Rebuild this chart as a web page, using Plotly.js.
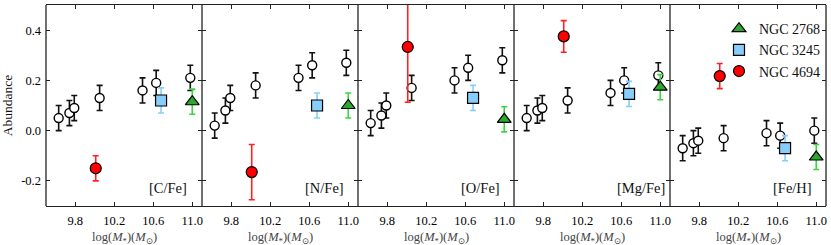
<!DOCTYPE html>
<html>
<head>
<meta charset="utf-8">
<script src="https://cdn.plot.ly/plotly-3.0.1.min.js"></script>
<style>
html,body{margin:0;padding:0;background:#fff;}
#chart{width:831px;height:245px;}
</style>
</head>
<body>
<div id="chart"></div>
<script>
// ---- data ----
const panelLabels = ['[C/Fe]', '[N/Fe]', '[O/Fe]', '[Mg/Fe]', '[Fe/H]'];
const xTitle = 'log(<i>M</i><sub>*</sub>)(<i>M</i><sub>⊙</sub>)';
const xTickVals = [9.8, 10.2, 10.6, 11.0];
const xTickText = ['9.8', '10.2', '10.6', '11.0'];
const yTickVals = [-0.2, 0.0, 0.2, 0.4];
const yTickText = ['-0.2', '0.0', '0.2', '0.4'];

// comparison sample (open circles): log stellar mass
const sampleMass = [9.63, 9.74, 9.79, 10.05, 10.49, 10.63, 10.98];
const sampleErr = [0.05, 0.05, 0.05, 0.05, 0.05, 0.05, 0.05];
const sampleCFe = [0.05, 0.07, 0.09, 0.13, 0.16, 0.19, 0.21];
const sampleNFe = [0.02, 0.08, 0.13, 0.18, 0.21, 0.26, 0.27];
const sampleOFe = [0.03, 0.06, 0.10, 0.17, 0.20, 0.25, 0.28];
const sampleMgFe = [0.05, 0.08, 0.09, 0.12, 0.15, 0.20, 0.22];
const sampleFeH = [-0.07, -0.05, -0.04, -0.03, -0.01, -0.02, 0.00];
const sampleSets = [sampleCFe, sampleNFe, sampleOFe, sampleMgFe, sampleFeH];

// named galaxies, one value per panel (C, N, O, Mg, Fe/H)
const massNGC2768 = 11.0;
const valNGC2768 = [0.115, 0.10, 0.045, 0.173, -0.105];
const errNGC2768 = [0.05, 0.05, 0.05, 0.05, 0.05];

const massNGC3245 = 10.68;
const valNGC3245 = [0.12, 0.10, 0.13, 0.146, -0.07];
const errNGC3245 = [0.05, 0.05, 0.05, 0.05, 0.05];

const massNGC4694 = 10.01;
const valNGC4694 = [-0.15, -0.165, 0.333, 0.375, 0.217];
const errNGC4694 = [0.05, 0.11, 0.22, 0.063, 0.05];

// ---- build ----
const serif = '"Liberation Serif", "DejaVu Serif", serif';
const axisColor = '#222';
const traces = [];
const layout = {
  width: 831, height: 245,
  margin: {l: 46, r: 5, t: 5, b: 39},
  paper_bgcolor: '#fff', plot_bgcolor: '#fff',
  showlegend: true,
  legend: {
    x: 1, xanchor: 'right', y: 0.96, yanchor: 'top',
    bgcolor: 'rgba(0,0,0,0)', borderwidth: 0,
    font: {family: serif, size: 14, color: '#111'},
    tracegroupgap: 0, itemwidth: 30
  },
  annotations: [],
  shapes: [],
  font: {family: serif, color: '#111'}
};

const n = panelLabels.length;
for (let i = 0; i < n; i++) {
  const xa = i === 0 ? 'x' : 'x' + (i + 1);
  const ya = i === 0 ? 'y' : 'y' + (i + 1);
  const xKey = i === 0 ? 'xaxis' : 'xaxis' + (i + 1);
  const yKey = i === 0 ? 'yaxis' : 'yaxis' + (i + 1);
  layout[xKey] = {
    domain: [i / n, (i + 1) / n], anchor: ya,
    range: [9.5, 11.1],
    tickvals: xTickVals, ticktext: xTickText,
    ticks: 'inside', ticklen: 4, tickwidth: 1, tickcolor: axisColor,
    showline: true, linecolor: axisColor, linewidth: 1.3, mirror: 'ticks',
    showgrid: false, zeroline: false,
    tickfont: {family: serif, size: 12.5, color: '#000'},
    ticklabelstandoff: 3
  };
  layout[yKey] = {
    domain: [0, 1], anchor: xa,
    range: [-0.3, 0.5],
    tickvals: yTickVals, ticktext: yTickText,
    ticks: 'inside', ticklen: 4, tickwidth: 1, tickcolor: axisColor,
    showline: false, mirror: 'ticks',
    showgrid: false, zeroline: false,
    showticklabels: i === 0,
    tickfont: {family: serif, size: 12.5, color: '#000'},
    ticklabelstandoff: 4
  };
  if (i > 0) layout[yKey].matches = 'y';
  if (i === 0) layout[yKey].title = {text: 'Abundance', font: {family: serif, size: 13.5, color: '#111'}, standoff: 6};

  // comparison sample
  traces.push({
    type: 'scatter', mode: 'markers', xaxis: xa, yaxis: ya,
    x: sampleMass, y: sampleSets[i],
    error_y: {type: 'data', array: sampleErr, visible: true, color: '#111', thickness: 1.6, width: 3},
    marker: {symbol: 'circle', size: 9, color: '#fff', line: {color: '#000', width: 1.4}},
    showlegend: false, hoverinfo: 'skip'
  });
  // NGC 4694
  traces.push({
    type: 'scatter', mode: 'markers', xaxis: xa, yaxis: ya,
    name: 'NGC 4694', legendrank: 3,
    x: [massNGC4694], y: [valNGC4694[i]],
    error_y: {type: 'data', array: [errNGC4694[i]], visible: true, color: '#ff2020', thickness: 1.6, width: 3},
    marker: {symbol: 'circle', size: 11, color: '#ff0000', line: {color: '#000', width: 1.2}},
    showlegend: i === n - 1
  });
  // NGC 3245
  traces.push({
    type: 'scatter', mode: 'markers', xaxis: xa, yaxis: ya,
    name: 'NGC 3245', legendrank: 2,
    x: [massNGC3245], y: [valNGC3245[i]],
    error_y: {type: 'data', array: [errNGC3245[i]], visible: true, color: '#87cefa', thickness: 1.6, width: 3},
    marker: {symbol: 'square', size: 11, color: '#87cefa', line: {color: '#000', width: 1.2}},
    showlegend: i === n - 1
  });
  // NGC 2768
  traces.push({
    type: 'scatter', mode: 'markers', xaxis: xa, yaxis: ya,
    name: 'NGC 2768', legendrank: 1,
    x: [massNGC2768], y: [valNGC2768[i]],
    error_y: {type: 'data', array: [errNGC2768[i]], visible: true, color: '#3ed43e', thickness: 1.6, width: 3},
    marker: {symbol: 'triangle-up', size: 12, color: '#2ca82c', line: {color: '#000', width: 1.2}},
    showlegend: i === n - 1
  });

  // panel label
  layout.annotations.push({
    xref: xa + ' domain', yref: ya + ' domain',
    x: 0.648, y: 0.04, xanchor: 'left', yanchor: 'bottom',
    text: panelLabels[i], showarrow: false,
    font: {family: serif, size: 14.5, color: '#111'}
  });
  // x-axis title (placed as annotation for precise vertical position)
  layout.annotations.push({
    xref: xa + ' domain', yref: ya + ' domain',
    x: 0.5, y: -0.16, xanchor: 'center', yanchor: 'middle',
    text: xTitle, showarrow: false,
    font: {family: serif, size: 12.5, color: '#444'}
  });
}
// panel frame borders (single line at each panel boundary)
for (let i = 0; i <= n; i++) {
  layout.shapes.push({
    type: 'line', xref: 'paper', yref: 'paper', layer: 'above',
    x0: i / n, x1: i / n, y0: 0, y1: 1,
    line: {color: axisColor, width: 1.3}
  });
}

Plotly.newPlot('chart', traces, layout, {displayModeBar: false, staticPlot: true});
</script>
</body>
</html>
